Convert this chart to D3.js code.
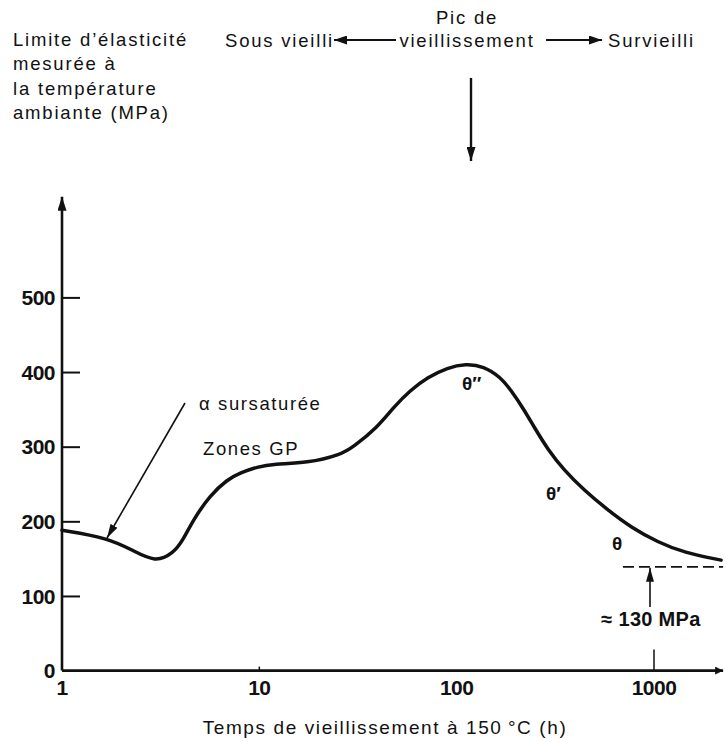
<!DOCTYPE html>
<html>
<head>
<meta charset="utf-8">
<script src="https://cdn.jsdelivr.net/npm/d3@7"></script>
<style>
  body { margin: 0; background: #fff; }
  text { font-family: "Liberation Sans", Arial, sans-serif; fill: #111; }
</style>
</head>
<body>
<div id="vis"></div>
<script>
// chart values
const times  = [1, 1.69, 2.29, 2.97, 3.66, 4.11, 4.62, 5.64, 6.88, 8.01, 9.77, 11.8, 17.5, 25.8, 30, 39.7, 47.9, 58.4, 71.3, 90, 111, 137, 167, 188, 219, 246, 290, 349, 441, 584, 764, 1047, 1419, 2188];
const values = [188, 178, 161, 145, 157, 175, 202, 235, 256, 265, 273, 277, 278, 289, 300, 326, 353, 376, 393, 406, 411, 408, 393, 376, 350, 327, 296, 269, 242, 215, 192, 172, 158, 148];
const yTicks = [0, 100, 200, 300, 400, 500];
const xTicks = [1, 10, 100, 1000];
const yTitle = ["Limite d\u2019\u00e9lasticit\u00e9", "mesur\u00e9e \u00e0", "la temp\u00e9rature", "ambiante (MPa)"];
const xTitle = "Temps de vieillissement \u00e0 150\u202f\u00b0C (h)";
const limitValue = 139, limitFrom = 696, limitLabel = "\u2248 130 MPa";
const phaseLabels = ["\u03b8\u2033", "\u03b8\u2032", "\u03b8"];

const width = 726, height = 742;
const x = d3.scaleLog().domain([1, 1000]).range([62, 654]);
const y = d3.scaleLinear().domain([0, 500]).range([670.6, 297.4]);
const xEnd = 2240, yTop = 635;

const svg = d3.select("#vis").append("svg")
    .attr("width", width)
    .attr("height", height);

const defs = svg.append("defs");
function marker(id, w, h) {
    defs.append("marker")
        .attr("id", id)
        .attr("markerUnits", "userSpaceOnUse")
        .attr("viewBox", `0 ${-h/2} ${w} ${h}`)
        .attr("refX", w).attr("refY", 0)
        .attr("markerWidth", w).attr("markerHeight", h)
        .attr("orient", "auto")
      .append("path")
        .attr("d", `M0,${-h/2}L${w},0L0,${h/2}Z`)
        .attr("fill", "#111");
}
marker("head", 13, 9);
marker("headAxis", 14, 9);
marker("headEnd", 8, 8);
marker("headSmall", 14, 8);

// axes
svg.append("line")
    .attr("x1", x(1)).attr("y1", y(0)).attr("x2", x(1)).attr("y2", y(yTop))
    .attr("stroke", "#111").attr("stroke-width", 2.6)
    .attr("marker-end", "url(#headAxis)");
svg.append("line")
    .attr("x1", x(1)).attr("y1", y(0)).attr("x2", x(xEnd)).attr("y2", y(0))
    .attr("stroke", "#111").attr("stroke-width", 2.6)
    .attr("marker-end", "url(#headEnd)");

const yAxis = svg.append("g")
    .attr("transform", `translate(${x(1)},0)`)
    .call(d3.axisRight(y).tickValues(yTicks.slice(1)).tickSize(18).tickFormat(""));
yAxis.select(".domain").remove();
yAxis.selectAll("line").attr("stroke", "#111").attr("stroke-width", 2);

svg.selectAll(".ylab").data(yTicks).join("text")
    .attr("x", 55).attr("y", d => y(d))
    .attr("dy", "0.36em")
    .attr("text-anchor", "end")
    .attr("font-size", 21).attr("font-weight", "bold")
    .attr("letter-spacing", -0.5)
    .text(d => d);

svg.selectAll(".xlab").data(xTicks).join("text")
    .attr("x", d => x(d)).attr("y", 695)
    .attr("text-anchor", "middle")
    .attr("font-size", 21).attr("font-weight", "bold")
    .attr("letter-spacing", -0.5)
    .text(d => d);

// tick marks on time axis
svg.append("line")
    .attr("x1", x(10)).attr("x2", x(10)).attr("y1", y(0)).attr("y2", y(0) - 4)
    .attr("stroke", "#111").attr("stroke-width", 1.5);
svg.append("line")
    .attr("x1", x(1000)).attr("x2", x(1000)).attr("y1", y(0)).attr("y2", y(0) - 21)
    .attr("stroke", "#111").attr("stroke-width", 1.5);

// titles
svg.append("text")
    .attr("x", 13).attr("y", 46)
    .attr("font-size", 18.5).attr("letter-spacing", 1.8)
    .selectAll("tspan").data(yTitle).join("tspan")
    .attr("x", 13).attr("dy", (d, i) => i ? 24.3 : 0)
    .text(d => d);

svg.append("text")
    .attr("x", 385).attr("y", 734)
    .attr("text-anchor", "middle")
    .attr("font-size", 19).attr("letter-spacing", 1.6)
    .text(xTitle);

// the curve
const line = d3.line()
    .x(d => x(d[0]))
    .y(d => y(d[1]))
    .curve(d3.curveBasis);
svg.append("path")
    .datum(d3.zip(times, values))
    .attr("d", line)
    .attr("fill", "none")
    .attr("stroke", "#111")
    .attr("stroke-width", 3.5)
    .attr("stroke-linecap", "round");

// annotations
const note = (tx, ty, txt, opts = {}) => svg.append("text")
    .attr("x", tx).attr("y", ty)
    .attr("text-anchor", opts.anchor || "start")
    .attr("font-size", opts.size || 18.5)
    .attr("font-weight", opts.weight || "normal")
    .attr("letter-spacing", opts.ls == null ? 1.6 : opts.ls)
    .text(txt);

note(199, 410, "\u03b1 sursatur\u00e9e");
svg.append("line")
    .attr("x1", 185).attr("y1", 403).attr("x2", 107).attr("y2", 538)
    .attr("stroke", "#111").attr("stroke-width", 1.6)
    .attr("marker-end", "url(#headSmall)");
note(203, 455, "Zones GP");

const phasePos = [[462, 390], [546, 500], [612, 550]];
phaseLabels.forEach((p, i) => note(phasePos[i][0], phasePos[i][1], p, {size: 19, weight: "bold", ls: 0}));

// limit line and its arrow
svg.append("line")
    .attr("x1", x(limitFrom)).attr("x2", x(xEnd)).attr("y1", y(limitValue)).attr("y2", y(limitValue))
    .attr("stroke", "#111").attr("stroke-width", 1.6)
    .attr("stroke-dasharray", "11,5");
svg.append("line")
    .attr("x1", 650).attr("x2", 650).attr("y1", 607).attr("y2", y(limitValue) + 1)
    .attr("stroke", "#111").attr("stroke-width", 1.6)
    .attr("marker-end", "url(#headSmall)");
note(651, 626, limitLabel, {anchor: "middle", size: 20, weight: "bold", ls: 0.3});

// header: ageing state arrows
note(225, 47, "Sous vieilli", {ls: 1.8});
note(467, 24, "Pic de", {anchor: "middle", ls: 1.8});
note(467, 47, "vieillissement", {anchor: "middle", ls: 1.8});
note(608, 47, "Survieilli", {ls: 1.8});
svg.append("line")
    .attr("x1", 396).attr("y1", 40).attr("x2", 334).attr("y2", 40)
    .attr("stroke", "#111").attr("stroke-width", 2)
    .attr("marker-end", "url(#head)");
svg.append("line")
    .attr("x1", 546).attr("y1", 40).attr("x2", 602).attr("y2", 40)
    .attr("stroke", "#111").attr("stroke-width", 2)
    .attr("marker-end", "url(#head)");
svg.append("line")
    .attr("x1", 471).attr("y1", 78).attr("x2", 471).attr("y2", 161)
    .attr("stroke", "#111").attr("stroke-width", 2.4)
    .attr("marker-end", "url(#headAxis)");
</script>
</body>
</html>
